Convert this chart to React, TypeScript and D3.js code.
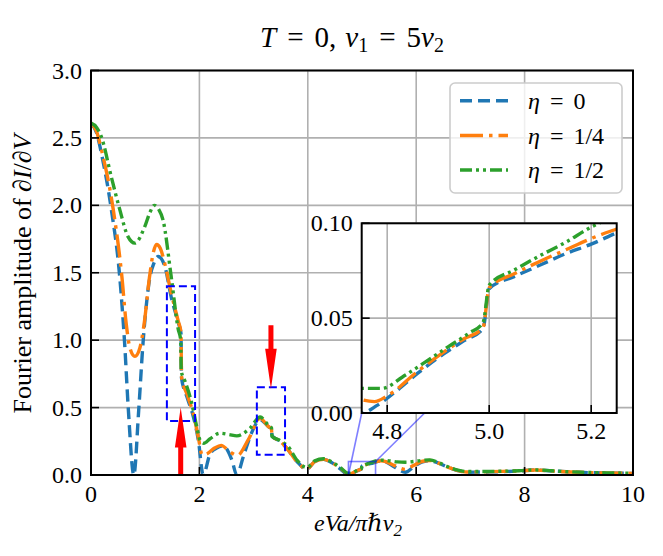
import * as d3 from "d3";

// Fourier amplitude of dI/dV against eVa/(pi hbar v2)
const etaZero: [number, number][] = [
  [0, 2.61], [0.1, 2.54], [0.2, 2.37], [0.375, 1.97], [0.53, 1.47], [0.62, 0.98],
  [0.69, 0.48], [0.79, 0], [0.88, 0.48], [0.96, 0.98], [1.08, 1.45], [1.16, 1.57],
  [1.24, 1.62], [1.36, 1.55], [1.48, 1.32], [1.61, 1.13], [1.66, 1.05], [1.67, 0.72],
  [1.77, 0.58], [1.89, 0.43], [1.98, 0.26], [2.07, 0], [2.2, 0.16], [2.32, 0.2],
  [2.44, 0.215], [2.6, 0.11], [2.69, 0], [2.81, 0.136], [2.96, 0.31], [3.12, 0.41],
  [3.27, 0.36], [3.33, 0.34], [3.34, 0.29], [3.49, 0.25], [3.61, 0.2], [3.8, 0.1],
  [3.98, 0.042], [4.13, 0.1], [4.29, 0.116], [4.45, 0.09], [4.6, 0.045], [4.75, 0],
  [4.78, 0.004], [4.82, 0.012], [4.86, 0.021], [4.91, 0.031], [4.95, 0.038], [4.988, 0.0445],
  [5.0, 0.0655], [5.05, 0.072], [5.1, 0.078], [5.15, 0.084], [5.2, 0.089], [5.25, 0.095],
  [5.35, 0.105], [5.45, 0.095], [5.6, 0.06], [5.8, 0.02], [5.95, 0.06], [6.1, 0.095],
  [6.25, 0.105], [6.4, 0.09], [6.56, 0.062], [6.75, 0.035], [6.93, 0.02], [7.2, 0.022],
  [7.6, 0.025], [7.9, 0.03], [8.2, 0.037], [8.5, 0.03], [9.0, 0.02], [9.5, 0.015], [10, 0.012],
];

const etaQuarter: [number, number][] = [
  [0, 2.61], [0.1, 2.55], [0.2, 2.4], [0.41, 1.97], [0.57, 1.47], [0.65, 1.12],
  [0.72, 0.94], [0.81, 0.88], [0.9, 0.94], [0.98, 1.12], [1.08, 1.47], [1.15, 1.65],
  [1.21, 1.71], [1.28, 1.68], [1.36, 1.57], [1.48, 1.35], [1.61, 1.14], [1.66, 1.06],
  [1.67, 0.73], [1.77, 0.6], [1.89, 0.45], [1.98, 0.28], [2.05, 0.15], [2.15, 0.16],
  [2.28, 0.2], [2.4, 0.22], [2.56, 0.173], [2.7, 0.145], [2.9, 0.26], [3.12, 0.42],
  [3.27, 0.36], [3.33, 0.34], [3.34, 0.29], [3.49, 0.25], [3.61, 0.2], [3.8, 0.1],
  [3.98, 0.045], [4.13, 0.1], [4.29, 0.116], [4.45, 0.09], [4.6, 0.05], [4.75, 0.007],
  [4.775, 0.006], [4.8, 0.009], [4.86, 0.022], [4.91, 0.032], [4.95, 0.039], [4.988, 0.045],
  [5.0, 0.066], [5.05, 0.0735], [5.1, 0.08], [5.15, 0.086], [5.2, 0.092], [5.25, 0.097],
  [5.35, 0.106], [5.45, 0.097], [5.6, 0.07], [5.8, 0.042], [5.95, 0.07], [6.1, 0.1],
  [6.25, 0.108], [6.4, 0.09], [6.56, 0.062], [6.75, 0.035], [6.93, 0.022], [7.2, 0.024],
  [7.6, 0.027], [7.9, 0.031], [8.2, 0.037], [8.5, 0.03], [9.0, 0.02], [9.5, 0.015], [10, 0.012],
];

const etaHalf: [number, number][] = [
  [0, 2.61], [0.1, 2.58], [0.19, 2.51], [0.375, 2.21], [0.53, 1.97], [0.68, 1.77],
  [0.81, 1.72], [0.99, 1.84], [1.09, 1.95], [1.17, 2.0], [1.25, 1.97], [1.33, 1.89],
  [1.48, 1.47], [1.61, 1.08], [1.655, 1.0], [1.665, 0.77], [1.73, 0.7], [1.86, 0.53],
  [1.95, 0.36], [2.01, 0.26], [2.08, 0.235], [2.2, 0.27], [2.38, 0.31], [2.55, 0.3],
  [2.69, 0.29], [2.93, 0.346], [3.12, 0.43], [3.27, 0.37], [3.33, 0.35], [3.34, 0.285],
  [3.49, 0.255], [3.64, 0.21], [3.8, 0.11], [3.98, 0.055], [4.13, 0.105], [4.29, 0.12],
  [4.45, 0.095], [4.6, 0.055], [4.75, 0.013], [4.79, 0.013], [4.83, 0.019], [4.87, 0.026],
  [4.92, 0.035], [4.96, 0.042], [4.988, 0.0477], [5.0, 0.0674], [5.05, 0.0755], [5.1, 0.083],
  [5.15, 0.09], [5.2, 0.098], [5.25, 0.104], [5.35, 0.11], [5.5, 0.105], [5.65, 0.097],
  [5.8, 0.095], [5.95, 0.1], [6.1, 0.108], [6.25, 0.112], [6.4, 0.095], [6.56, 0.065],
  [6.75, 0.038], [6.93, 0.026], [7.2, 0.026], [7.6, 0.028], [7.9, 0.032], [8.2, 0.038],
  [8.5, 0.031], [9.0, 0.021], [9.5, 0.016], [10, 0.013],
];

const etaLabels = ["0", "1/4", "1/2"];

const xTicks = [0, 2, 4, 6, 8, 10];
const yTicks = [0, 0.5, 1, 1.5, 2, 2.5, 3];
const insetXTicks = [4.8, 5.0, 5.2];
const insetYTicks = [0, 0.05, 0.1];
const insetDomainX: [number, number] = [4.75, 5.25];
const insetDomainY: [number, number] = [0, 0.1];

// dashed blue boxes
const boxX0 = [1.4, 3.06];
const boxX1 = [1.92, 3.58];
const boxY0 = [0.4, 0.15];
const boxY1 = [1.4, 0.65];

// red arrows
const arrowX = [1.655, 3.32];
const arrowFrom = [0, 1.11];
const arrowTo = [0.5, 0.64];

const colors = ["#1f77b4", "#ff7f0e", "#2ca02c"];
const dashes = ["12 6", "23 6 3.5 6", "12 4 3 4 3 4"];
const allSeries = [etaZero, etaQuarter, etaHalf];

const FONT = "'Liberation Serif', 'DejaVu Serif', serif";
const GRID = "#b0b0b0";

export default function App() {
  const W = 663;
  const H = 556;
  const m = { left: 91, right: 633, top: 70.5, bottom: 475 };
  const ins = { left: 361.7, right: 616.7, top: 223.3, bottom: 413 };

  const x = d3.scaleLinear().domain([0, 10]).range([m.left, m.right]);
  const y = d3.scaleLinear().domain([0, 3]).range([m.bottom, m.top]);
  const ix = d3.scaleLinear().domain(insetDomainX).range([ins.left, ins.right]);
  const iy = d3.scaleLinear().domain(insetDomainY).range([ins.bottom, ins.top]);

  const mainLine = d3
    .line<[number, number]>()
    .x((d) => x(d[0]))
    .y((d) => y(d[1]))
    .curve(d3.curveMonotoneX);
  const insetLine = d3
    .line<[number, number]>()
    .x((d) => ix(d[0]))
    .y((d) => iy(d[1]))
    .curve(d3.curveMonotoneX);

  const fmt1 = d3.format(".1f");
  const fmt2 = d3.format(".2f");

  const arrowPath = (i: number) => {
    const cx = x(arrowX[i]);
    const y0 = y(arrowFrom[i]);
    const y1 = y(arrowTo[i]);
    const dir = y1 > y0 ? 1 : -1;
    const hb = y1 - dir * 40;
    return `M${cx - 2.5},${y0} L${cx - 2.5},${hb} L${cx - 5.8},${hb} L${cx},${y1} L${cx + 5.8},${hb} L${cx + 2.5},${hb} L${cx + 2.5},${y0} Z`;
  };

  const legendRows = [100.7, 135.5, 170];
  const lw = 3.4;

  return (
    <svg
      width={W}
      height={H}
      style={{ position: "absolute", left: 0, top: 0, background: "#fff" }}
      fontFamily={FONT}
    >
      <defs>
        <clipPath id="mainClip">
          <rect x={m.left} y={m.top} width={m.right - m.left} height={m.bottom - m.top} />
        </clipPath>
        <clipPath id="insetClip">
          <rect x={ins.left} y={ins.top} width={ins.right - ins.left} height={ins.bottom - ins.top} />
        </clipPath>
      </defs>
      <rect width={W} height={H} fill="#fff" />

      {/* title */}
      <text x={352} y={47} fontSize={29} textAnchor="middle">
        <tspan fontStyle="italic">T</tspan>
        <tspan dx={11}>=</tspan>
        <tspan dx={11}>0,</tspan>
        <tspan dx={9} fontStyle="italic">v</tspan>
        <tspan fontSize={20} dy={5}>1</tspan>
        <tspan dy={-5} dx={11}>=</tspan>
        <tspan dx={11}>5</tspan>
        <tspan fontStyle="italic">v</tspan>
        <tspan fontSize={20} dy={5}>2</tspan>
      </text>

      {/* main grid */}
      {xTicks.map((t) => (
        <line key={"gx" + t} x1={x(t)} x2={x(t)} y1={m.top} y2={m.bottom} stroke={GRID} strokeWidth={1.6} />
      ))}
      {yTicks.map((t) => (
        <line key={"gy" + t} x1={m.left} x2={m.right} y1={y(t)} y2={y(t)} stroke={GRID} strokeWidth={1.6} />
      ))}

      {/* curves */}
      <g clipPath="url(#mainClip)">
        {allSeries.map((s, i) => (
          <path
            key={"s" + i}
            d={mainLine(s) ?? ""}
            fill="none"
            stroke={colors[i]}
            strokeWidth={lw}
            strokeDasharray={dashes[i]}
          />
        ))}
        {boxX0.map((_, i) => (
          <rect
            key={"b" + i}
            x={x(boxX0[i])}
            y={y(boxY1[i])}
            width={x(boxX1[i]) - x(boxX0[i])}
            height={y(boxY0[i]) - y(boxY1[i])}
            fill="none"
            stroke="#0000ff"
            strokeWidth={2}
            strokeDasharray="8 4"
          />
        ))}
        {arrowX.map((_, i) => (
          <path key={"a" + i} d={arrowPath(i)} fill="#ff0000" />
        ))}
        {/* zoom indicator box */}
        <rect
          x={x(insetDomainX[0])}
          y={y(insetDomainY[1])}
          width={x(insetDomainX[1]) - x(insetDomainX[0])}
          height={y(insetDomainY[0]) - y(insetDomainY[1])}
          fill="none"
          stroke="#0000ff"
          strokeOpacity={0.5}
          strokeWidth={1.6}
        />
      </g>
      <line
        x1={x(insetDomainX[0])}
        y1={y(insetDomainY[0])}
        x2={ins.left}
        y2={ins.bottom}
        stroke="#0000ff"
        strokeOpacity={0.5}
        strokeWidth={1.6}
      />
      <line
        x1={x(insetDomainX[1])}
        y1={y(insetDomainY[1])}
        x2={ins.right}
        y2={ins.top}
        stroke="#0000ff"
        strokeOpacity={0.5}
        strokeWidth={1.6}
      />

      {/* main frame & ticks */}
      <rect x={m.left} y={m.top} width={m.right - m.left} height={m.bottom - m.top} fill="none" stroke="#000" strokeWidth={2} />
      {xTicks.map((t) => (
        <g key={"tx" + t}>
          <line x1={x(t)} x2={x(t)} y1={m.bottom} y2={m.bottom - 8} stroke="#000" strokeWidth={1.6} />
          <text x={x(t)} y={m.bottom + 27} fontSize={24} textAnchor="middle">
            {t}
          </text>
        </g>
      ))}
      {yTicks.map((t) => (
        <g key={"ty" + t}>
          <line x1={m.left} x2={m.left + 8} y1={y(t)} y2={y(t)} stroke="#000" strokeWidth={1.6} />
          <text x={m.left - 9} y={y(t) + 8} fontSize={24} textAnchor="end">
            {fmt1(t)}
          </text>
        </g>
      ))}

      {/* axis labels */}
      <text x={358} y={531} fontSize={24} textAnchor="middle" fontStyle="italic">
        eVa/πℏv<tspan fontSize={17} dy={5}>2</tspan>
      </text>
      <text transform={`translate(31,${274}) rotate(-90)`} fontSize={26} textAnchor="middle">
        Fourier amplitude of ∂<tspan fontStyle="italic">I</tspan>/∂<tspan fontStyle="italic">V</tspan>
      </text>

      {/* legend */}
      <rect x={450} y={83} width={172} height={110} rx={5} fill="#fff" fillOpacity={0.8} stroke="#cccccc" strokeWidth={1.6} />
      {etaLabels.map((lab, i) => (
        <g key={"l" + i}>
          <line
            x1={460}
            x2={508}
            y1={legendRows[i]}
            y2={legendRows[i]}
            stroke={colors[i]}
            strokeWidth={lw}
            strokeDasharray={dashes[i]}
          />
          <text x={528} y={legendRows[i] + 8} fontSize={24}>
            <tspan fontStyle="italic">η</tspan>
            <tspan dx={10}>=</tspan>
            <tspan dx={10}>{lab}</tspan>
          </text>
        </g>
      ))}

      {/* inset */}
      <rect x={ins.left} y={ins.top} width={ins.right - ins.left} height={ins.bottom - ins.top} fill="#fff" />
      {insetXTicks.map((t) => (
        <line key={"igx" + t} x1={ix(t)} x2={ix(t)} y1={ins.top} y2={ins.bottom} stroke={GRID} strokeWidth={1.6} />
      ))}
      {insetYTicks.map((t) => (
        <line key={"igy" + t} x1={ins.left} x2={ins.right} y1={iy(t)} y2={iy(t)} stroke={GRID} strokeWidth={1.6} />
      ))}
      <g clipPath="url(#insetClip)">
        {allSeries.map((s, i) => (
          <path
            key={"is" + i}
            d={insetLine(s.filter((d) => d[0] >= 4.6 && d[0] <= 5.45)) ?? ""}
            fill="none"
            stroke={colors[i]}
            strokeWidth={lw}
            strokeDasharray={dashes[i]}
          />
        ))}
      </g>
      <rect x={ins.left} y={ins.top} width={ins.right - ins.left} height={ins.bottom - ins.top} fill="none" stroke="#000" strokeWidth={2} />
      {insetXTicks.map((t) => (
        <g key={"itx" + t}>
          <line x1={ix(t)} x2={ix(t)} y1={ins.bottom} y2={ins.bottom - 8} stroke="#000" strokeWidth={1.6} />
          <text x={ix(t)} y={ins.bottom + 26} fontSize={24} textAnchor="middle">
            {fmt1(t)}
          </text>
        </g>
      ))}
      {insetYTicks.map((t) => (
        <g key={"ity" + t}>
          <line x1={ins.left} x2={ins.left + 8} y1={iy(t)} y2={iy(t)} stroke="#000" strokeWidth={1.6} />
          <text x={ins.left - 9} y={iy(t) + 8} fontSize={24} textAnchor="end">
            {fmt2(t)}
          </text>
        </g>
      ))}
    </svg>
  );
}
